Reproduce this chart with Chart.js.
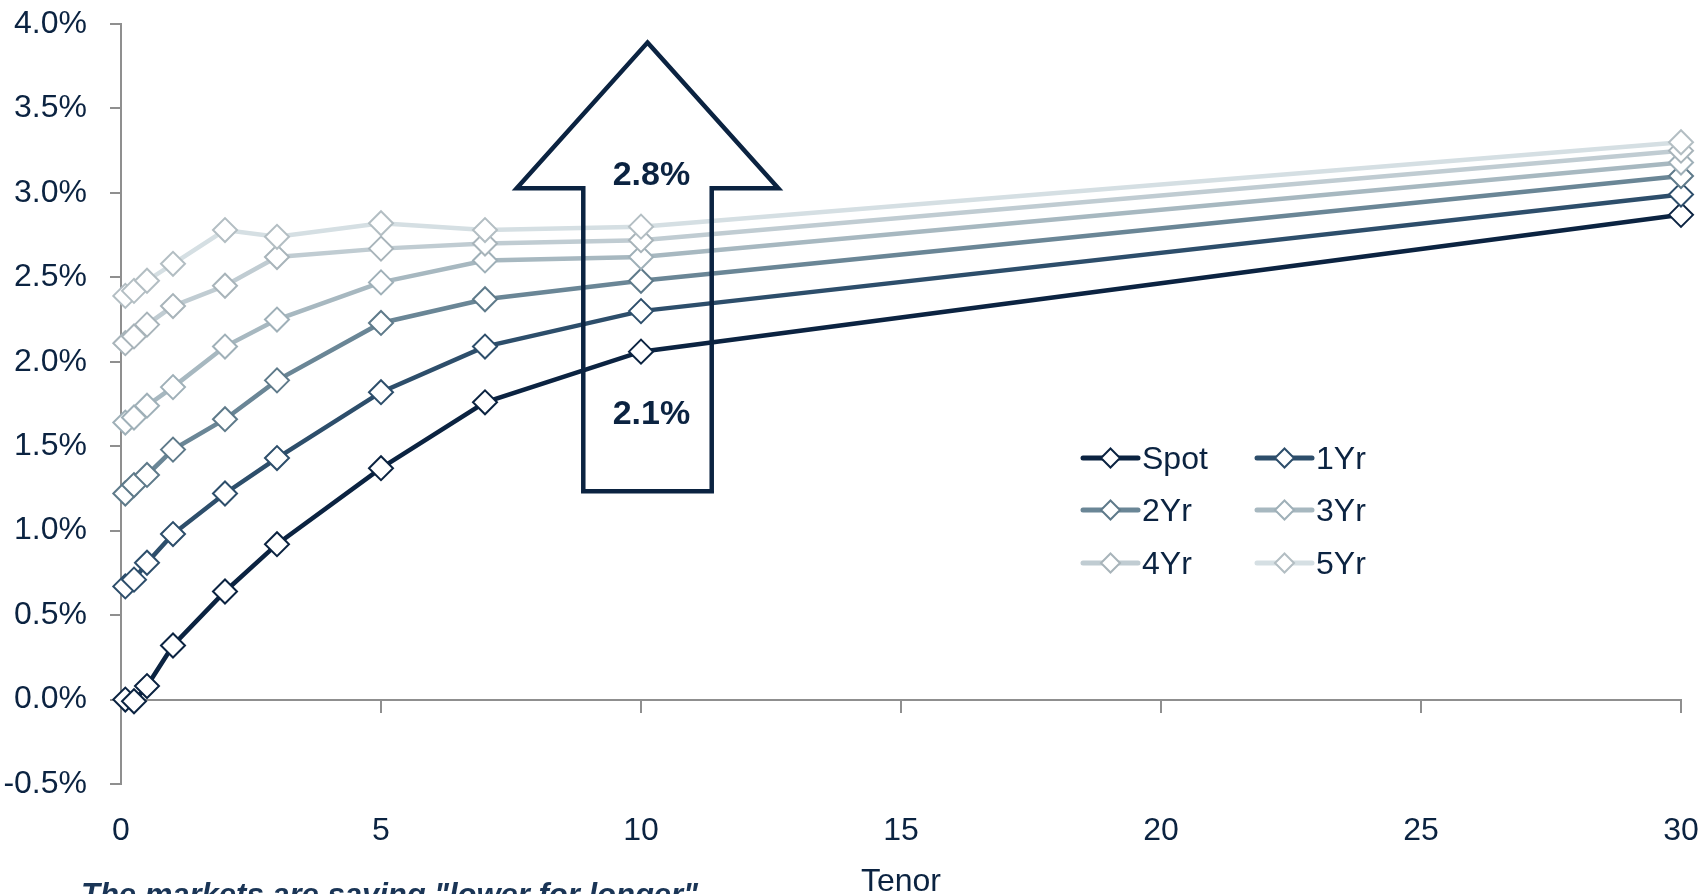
<!DOCTYPE html>
<html>
<head>
<meta charset="utf-8">
<script src="https://cdn.jsdelivr.net/npm/chart.js@4.4.1/dist/chart.umd.min.js"></script>
<style>
  html, body { margin: 0; padding: 0; background: #ffffff; }
  #wrap { width: 1706px; height: 894px; }
</style>
</head>
<body>
<div id="wrap"><canvas id="curve" width="1706" height="894"></canvas></div>
<script>
// Tenors in years and the spot / forward-starting curves (in %).
const tenors = [0.083, 0.25, 0.5, 1, 2, 3, 5, 7, 10, 30];
const spot   = [0.00, -0.01, 0.08, 0.32, 0.64, 0.92, 1.37, 1.76, 2.06, 2.87];
const fwd1Yr = [0.67, 0.71, 0.81, 0.98, 1.22, 1.43, 1.82, 2.09, 2.30, 2.99];
const fwd2Yr = [1.22, 1.27, 1.33, 1.48, 1.66, 1.89, 2.23, 2.37, 2.48, 3.10];
const fwd3Yr = [1.64, 1.67, 1.74, 1.85, 2.09, 2.25, 2.47, 2.60, 2.62, 3.18];
const fwd4Yr = [2.11, 2.15, 2.22, 2.33, 2.45, 2.62, 2.67, 2.70, 2.72, 3.25];
const fwd5Yr = [2.39, 2.42, 2.48, 2.58, 2.78, 2.74, 2.82, 2.78, 2.80, 3.30];
const seriesNames = ['Spot', '1Yr', '2Yr', '3Yr', '4Yr', '5Yr'];
const seriesValues = [spot, fwd1Yr, fwd2Yr, fwd3Yr, fwd4Yr, fwd5Yr];

const xTitle = 'Tenor';
const footnote = 'The markets are saying "lower for longer"';
const highlightTenor = 10;

// Styling
const NAVY = '#0b2341';
const AXIS = '#8f8f8f';
const FONT = '"Liberation Sans", Arial, sans-serif';
const lineColors   = ['#0b2341', '#2d4e6b', '#6a8696', '#a7b8c0', '#c0ccd2', '#d5dfe3'];
const markerColors = ['#0b2341', '#2d4e6b', '#5e7a8a', '#9fb0b8', '#a8b4ba', '#b3bec3'];

const datasets = seriesValues.map((vals, i) => ({
  label: seriesNames[i],
  data: tenors.map((t, j) => ({ x: t, y: vals[j] })),
  borderColor: lineColors[i],
  borderWidth: 4.5,
  tension: 0,
  clip: false,
  pointStyle: 'rectRot',
  pointRadius: 12,
  pointHoverRadius: 12,
  pointBorderWidth: 2,
  pointBackgroundColor: '#ffffff',
  pointBorderColor: markerColors[i],
  order: seriesValues.length - 1 - i
}));

function diamond(ctx, cx, cy, r) {
  ctx.beginPath();
  ctx.moveTo(cx, cy - r);
  ctx.lineTo(cx + r, cy);
  ctx.lineTo(cx, cy + r);
  ctx.lineTo(cx - r, cy);
  ctx.closePath();
}

// Keep the plot area fixed by the layout padding alone
function noEdgePadding(s) {
  s.paddingTop = 0; s.paddingBottom = 0; s.paddingLeft = 0; s.paddingRight = 0;
}

// Arrow annotation, two-column legend and footnote.
const overlay = {
  id: 'overlay',
  afterDraw(chart) {
    const { ctx } = chart;
    const xs = chart.scales.x, ys = chart.scales.y;
    const px = v => xs.getPixelForValue(v);
    const py = v => ys.getPixelForValue(v);

    // Up arrow spanning the move at the highlighted tenor
    const cx = highlightTenor + 0.125;
    const tipY = 3.89, baseY = 3.028, bottomY = 1.233;
    const headHalf = 2.515, shaftHalf = 1.235;
    ctx.save();
    ctx.strokeStyle = NAVY;
    ctx.lineWidth = 4.5;
    ctx.lineJoin = 'miter';
    ctx.beginPath();
    ctx.moveTo(px(cx), py(tipY));
    ctx.lineTo(px(cx + headHalf), py(baseY));
    ctx.lineTo(px(cx + shaftHalf), py(baseY));
    ctx.lineTo(px(cx + shaftHalf), py(bottomY));
    ctx.lineTo(px(cx - shaftHalf), py(bottomY));
    ctx.lineTo(px(cx - shaftHalf), py(baseY));
    ctx.lineTo(px(cx - headHalf), py(baseY));
    ctx.closePath();
    ctx.stroke();

    const idx = tenors.indexOf(highlightTenor);
    ctx.fillStyle = NAVY;
    ctx.font = 'bold 34px ' + FONT;
    ctx.textAlign = 'center';
    ctx.textBaseline = 'middle';
    ctx.fillText(fwd5Yr[idx].toFixed(1) + '%', px(highlightTenor + 0.2), py(3.10));
    ctx.fillText(spot[idx].toFixed(1) + '%', px(highlightTenor + 0.2), py(1.685));

    // Legend: two columns, three rows
    const rowY = [458, 510, 563];
    const colX = [1083, 1257];
    const sampleLen = 55;
    ctx.font = '32px ' + FONT;
    ctx.textAlign = 'left';
    chart.data.datasets.forEach((ds, i) => {
      const x0 = colX[i % 2];
      const y0 = rowY[Math.floor(i / 2)];
      ctx.strokeStyle = ds.borderColor;
      ctx.lineWidth = 5;
      ctx.lineCap = 'round';
      ctx.beginPath();
      ctx.moveTo(x0, y0);
      ctx.lineTo(x0 + sampleLen, y0);
      ctx.stroke();
      diamond(ctx, x0 + sampleLen / 2, y0, 9.5);
      ctx.fillStyle = '#ffffff';
      ctx.fill();
      ctx.strokeStyle = ds.pointBorderColor;
      ctx.lineWidth = 2;
      ctx.stroke();
      ctx.fillStyle = NAVY;
      ctx.fillText(ds.label, x0 + sampleLen + 4, y0 + 2);
    });

    // Footnote below the axis
    ctx.font = 'italic bold 31px ' + FONT;
    ctx.textBaseline = 'alphabetic';
    ctx.fillStyle = '#1a3556';
    ctx.fillText(footnote, 81, 905);
    ctx.restore();
  }
};

new Chart(document.getElementById('curve'), {
  type: 'line',
  data: { datasets },
  options: {
    responsive: false,
    animation: false,
    devicePixelRatio: 1,
    layout: { padding: { top: 24, right: 25, bottom: 0, left: 0 } },
    plugins: {
      legend: { display: false },
      tooltip: { enabled: false }
    },
    scales: {
      x: {
        type: 'linear',
        position: 'bottom',
        min: 0,
        max: 30,
        ticks: { stepSize: 5, color: NAVY, font: { family: FONT, size: 32 }, padding: 28, maxRotation: 0 },
        grid: { display: false, drawTicks: false },
        border: { display: false },
        title: {
          display: true,
          text: xTitle,
          color: NAVY,
          font: { family: FONT, size: 32, lineHeight: 1 },
          padding: { top: 0, bottom: -4 }
        },
        afterFit(s) { s.height = 110; noEdgePadding(s); }
      },
      x0: {
        type: 'linear',
        position: { y: 0 },
        min: 0,
        max: 30,
        ticks: { display: false, stepSize: 5 },
        grid: { drawOnChartArea: false, drawTicks: true, tickLength: 12, color: AXIS, lineWidth: 2 },
        border: { display: true, color: AXIS, width: 2 },
        afterFit(s) { s.height = 0; noEdgePadding(s); }
      },
      y: {
        type: 'linear',
        min: -0.5,
        max: 4.0,
        ticks: {
          stepSize: 0.5,
          color: NAVY,
          font: { family: FONT, size: 32 },
          padding: 23,
          callback: v => v.toFixed(1) + '%'
        },
        grid: { drawOnChartArea: false, drawTicks: true, tickLength: 11, color: AXIS, lineWidth: 2 },
        border: { display: true, color: AXIS, width: 2 },
        afterFit(s) { s.width = 121; noEdgePadding(s); }
      }
    }
  },
  plugins: [overlay]
});
</script>
</body>
</html>
